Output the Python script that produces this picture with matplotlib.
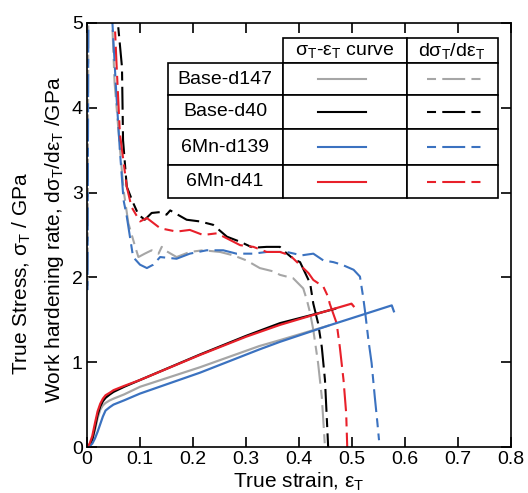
import numpy as np
import matplotlib
matplotlib.use("Agg")
import matplotlib.pyplot as plt
from matplotlib.lines import Line2D
from matplotlib.patches import Rectangle

plt.rcParams["font.family"] = ["Liberation Sans", "DejaVu Sans"]
plt.rcParams["mathtext.fontset"] = "custom"
plt.rcParams["mathtext.rm"] = "Liberation Sans"
plt.rcParams["mathtext.it"] = "Liberation Sans"
plt.rcParams["lines.scale_dashes"] = False

# -----------------------------
# Data
# -----------------------------
names = ["Base-d147", "Base-d40", "6Mn-d139", "6Mn-d41"]
colors = ["#a6a6a6", "#000000", "#3b72c0", "#e8202a"]

# true stress - true strain curves (GPa)
strain_b147 = [0, 0.005, 0.01, 0.015, 0.02, 0.025, 0.03, 0.035, 0.043, 0.05, 0.07, 0.1, 0.213, 0.325, 0.364, 0.455]
stress_b147 = [0, 0.02, 0.08, 0.2, 0.34, 0.44, 0.49, 0.52, 0.55, 0.57, 0.62, 0.71, 0.94, 1.19, 1.26, 1.43]

strain_b40 = [0, 0.005, 0.01, 0.015, 0.02, 0.025, 0.03, 0.035, 0.043, 0.05, 0.07, 0.1, 0.213, 0.3, 0.364, 0.42, 0.468]
stress_b40 = [0, 0.02, 0.09, 0.23, 0.38, 0.48, 0.54, 0.58, 0.62, 0.65, 0.71, 0.79, 1.09, 1.31, 1.46, 1.55, 1.63]

strain_m139 = [0, 0.005, 0.01, 0.015, 0.02, 0.025, 0.03, 0.035, 0.043, 0.05, 0.07, 0.1, 0.213, 0.325, 0.364,
               0.455, 0.575, 0.579]
stress_m139 = [0, 0.01, 0.04, 0.1, 0.18, 0.27, 0.36, 0.43, 0.47, 0.50, 0.55, 0.63, 0.876, 1.15, 1.24,
               1.43, 1.67, 1.60]

strain_m41 = [0, 0.005, 0.01, 0.015, 0.02, 0.025, 0.03, 0.035, 0.043, 0.05, 0.07, 0.1, 0.213, 0.3, 0.364,
              0.45, 0.499, 0.503]
stress_m41 = [0, 0.04, 0.13, 0.28, 0.42, 0.51, 0.57, 0.61, 0.64, 0.67, 0.72, 0.79, 1.085, 1.30, 1.44,
              1.60, 1.69, 1.66]

# work hardening rate dσ/dε (GPa); nan separates the elastic part from the plastic part
eps_b147 = [0.001, 0.003, np.nan, 0.047, 0.052, 0.062, 0.069, 0.078, 0.091, 0.097, 0.109, 0.122, 0.135, 0.141,
            0.147, 0.169, 0.194, 0.219, 0.251, 0.276, 0.301, 0.326, 0.352, 0.364, 0.389, 0.408, 0.415, 0.421,
            0.427, 0.436, 0.443, 0.447, 0.449]
whr_b147 = [1.9, 6.0, np.nan, 5.1, 4.3, 3.53, 3.03, 2.64, 2.36, 2.24, 2.28, 2.32, 2.28, 2.36,
            2.32, 2.24, 2.30, 2.32, 2.30, 2.26, 2.20, 2.11, 2.07, 2.03, 1.99, 1.87, 1.73, 1.58,
            1.38, 0.99, 0.59, 0.20, 0.0]

eps_b40 = [0.059, 0.066, 0.068, 0.075, 0.087, 0.097, 0.109, 0.122, 0.138, 0.150, 0.157, 0.188, 0.213, 0.238,
           0.264, 0.289, 0.313, 0.339, 0.364, 0.370, 0.389, 0.402, 0.421, 0.427, 0.436, 0.443, 0.449, 0.452, 0.455]
whr_b40 = [4.95, 4.48, 3.62, 3.07, 2.88, 2.74, 2.68, 2.76, 2.77, 2.74, 2.79, 2.68, 2.66, 2.62,
           2.48, 2.42, 2.35, 2.36, 2.36, 2.32, 2.22, 2.18, 1.93, 1.69, 1.46, 1.18, 0.79, 0.40, 0.0]

eps_m139 = [0.001, 0.003, np.nan, 0.048, 0.055, 0.062, 0.069, 0.075, 0.081, 0.087, 0.1, 0.113, 0.125, 0.138,
            0.169, 0.194, 0.226, 0.257, 0.282, 0.314, 0.339, 0.377, 0.405, 0.427, 0.446, 0.465, 0.481,
            0.503, 0.515, 0.521, 0.525, 0.531, 0.537, 0.543, 0.548, 0.551]
whr_m139 = [1.85, 6.0, np.nan, 5.0, 4.2, 3.5, 2.91, 2.72, 2.48, 2.24, 2.15, 2.11, 2.15, 2.24,
            2.22, 2.28, 2.32, 2.32, 2.28, 2.28, 2.30, 2.30, 2.26, 2.28, 2.20, 2.18, 2.15,
            2.09, 2.01, 1.77, 1.58, 1.26, 0.99, 0.59, 0.28, 0.08]

eps_m41 = [0.053, 0.056, 0.062, 0.075, 0.084, 0.1, 0.113, 0.138, 0.169, 0.194, 0.219, 0.245, 0.264, 0.289,
           0.314, 0.339, 0.364, 0.383, 0.408, 0.418, 0.427, 0.446, 0.455, 0.458, 0.471, 0.477, 0.484,
           0.489, 0.491]
whr_m41 = [4.90, 4.48, 3.70, 3.07, 2.83, 2.66, 2.70, 2.58, 2.54, 2.56, 2.50, 2.52, 2.46, 2.38,
           2.36, 2.30, 2.30, 2.26, 2.11, 2.05, 1.97, 1.89, 1.77, 1.69, 1.46, 1.18, 0.79,
           0.40, 0.0]

stress_curves = [(strain_b147, stress_b147), (strain_b40, stress_b40),
                 (strain_m139, stress_m139), (strain_m41, stress_m41)]
whr_curves = [(eps_b147, whr_b147), (eps_b40, whr_b40),
              (eps_m139, whr_m139), (eps_m41, whr_m41)]

dash = (0, (6.5, 4.5, 16.5, 4.5))

# -----------------------------
# Plot
# -----------------------------
fig = plt.figure(figsize=(5.28, 4.93), dpi=100)
ax = fig.add_axes([87 / 528, 46 / 493, 424 / 528, 424 / 493])

for (x, y), c in zip(whr_curves, colors):
    ax.plot(x, y, color=c, lw=1.5, linestyle=dash)
for (x, y), c in zip(stress_curves, colors):
    ax.plot(x, y, color=c, lw=1.6)

ax.set_xlim(0, 0.8)
ax.set_ylim(0, 5)
ax.set_xticks(np.arange(0, 0.81, 0.1))
ax.set_xticklabels(["0", "0.1", "0.2", "0.3", "0.4", "0.5", "0.6", "0.7", "0.8"])
ax.set_yticks(range(6))
ax.tick_params(direction="in", length=7, width=1.2, top=True, right=True, labelsize=14, pad=3)
for s in ax.spines.values():
    s.set_linewidth(1.2)

ax.set_xlabel(r"True strain, ε$_\mathregular{T}$", fontsize=15, labelpad=2)
fig.text(22 / 528, 1 - 273 / 493, r"True Stress, σ$_\mathregular{T}$ / GPa",
         rotation=90, ha="center", va="center", fontsize=15)
fig.text(55 / 528, 1 - 240 / 493,
         r"Work hardening rate, dσ$_\mathregular{T}$/dε$_\mathregular{T}$ /GPa",
         rotation=90, ha="center", va="center", fontsize=15)

# -----------------------------
# Table-style legend
# -----------------------------
def ax_xy(px, py):
    return (px - 87) / 424, (447 - py) / 424

def box(x0, y0, x1, y1):
    (a, b), (c, d) = ax_xy(x0, y1), ax_xy(x1, y0)
    ax.add_patch(Rectangle((a, b), c - a, d - b, transform=ax.transAxes,
                           facecolor="white", edgecolor="black", lw=1.2, zorder=5))

box(283, 38, 407, 63)
box(407, 38, 498, 63)
rows = [63, 95, 129, 165, 198]
for i, name in enumerate(names):
    box(168, rows[i], 283, rows[i + 1])
    box(283, rows[i], 407, rows[i + 1])
    box(407, rows[i], 498, rows[i + 1])
    xm, ym = ax_xy(225, (rows[i] + rows[i + 1]) / 2)
    ax.text(xm, ym, name, transform=ax.transAxes, ha="center", va="center",
            fontsize=14, zorder=6)
    (a, yy), (b, _) = ax_xy(318, (rows[i] + rows[i + 1]) / 2), ax_xy(366, 0)
    ax.add_line(Line2D([a, b], [yy, yy], transform=ax.transAxes, color=colors[i], lw=1.5, zorder=6))
    (a, yy), (b, _) = ax_xy(427, (rows[i] + rows[i + 1]) / 2), ax_xy(482, 0)
    ax.add_line(Line2D([a, b], [yy, yy], transform=ax.transAxes, color=colors[i], lw=1.5,
                       linestyle=dash, zorder=6))

xm, ym = ax_xy(345, 51)
ax.text(xm, ym, r"σ$_\mathregular{T}$-ε$_\mathregular{T}$ curve", transform=ax.transAxes,
        ha="center", va="center", fontsize=14, zorder=6)
xm, ym = ax_xy(452, 51)
ax.text(xm, ym, r"dσ$_\mathregular{T}$/dε$_\mathregular{T}$", transform=ax.transAxes,
        ha="center", va="center", fontsize=14, zorder=6)

fig.savefig("out.png", dpi=100)
